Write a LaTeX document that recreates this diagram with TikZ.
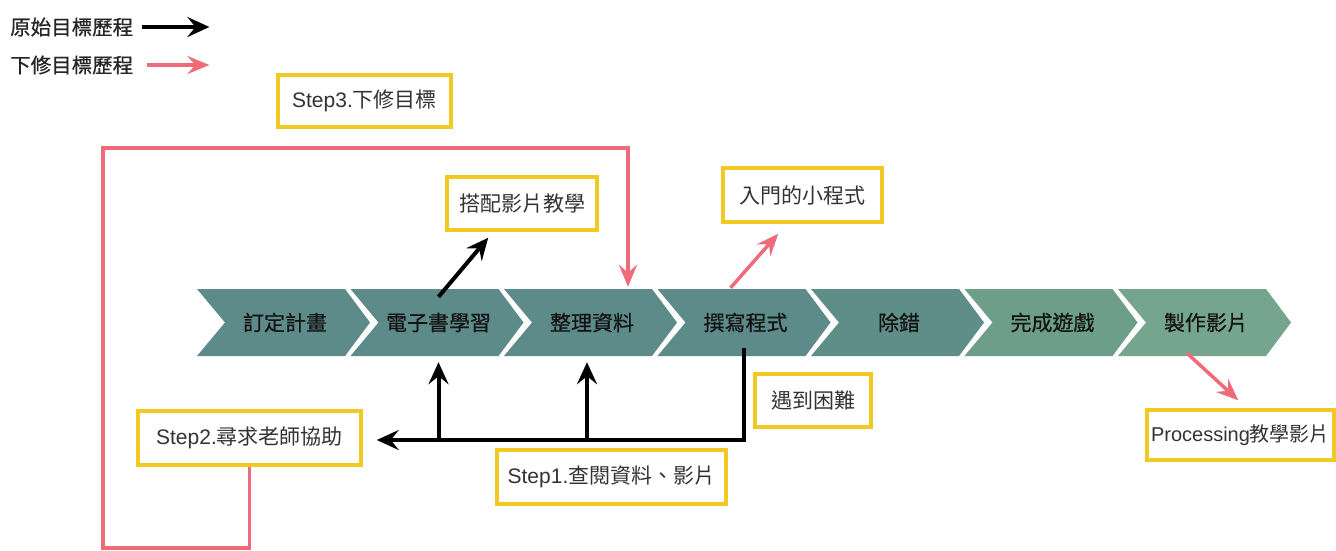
\documentclass[tikz,border=0pt]{standalone}
\usepackage{fontspec}
\setmainfont{Noto Sans CJK TC}
\newfontfamily\lat{Liberation Sans}
\newfontfamily\medfont[FakeBold=0.6]{Noto Sans CJK TC}
\usetikzlibrary{arrows.meta,calc}
\definecolor{pk}{RGB}{238,108,122}
\definecolor{yel}{RGB}{242,200,35}
\definecolor{chA}{RGB}{92,139,138}
\definecolor{chB}{RGB}{95,142,137}
\definecolor{chC}{RGB}{108,158,137}
\definecolor{chD}{RGB}{117,165,140}
\begin{document}
\begin{tikzpicture}[x=1pt,y=-1pt,
  chev/.style={minimum width=120pt,minimum height=67pt,inner sep=0pt,font=\medfont\fontsize{21}{21}\selectfont,text=black!92},
  lbl/.style={draw=yel,line width=3.5pt,fill=white,inner sep=0pt,font=\fontsize{21}{21}\selectfont,text=black!80},
  leg/.style={inner sep=0pt,anchor=west,font=\medfont\fontsize{20.5}{20.5}\selectfont,text=black!85},
  blk/.style={draw=black,line width=4pt,line join=miter,-{Stealth[length=22pt,width=20pt,inset=8pt]}},
  pka/.style={draw=pk,line width=3.5pt,line join=miter,-{Stealth[length=22pt,width=18pt,inset=8pt]}},
]
\useasboundingbox (0,0) rectangle (1336,550);
\fill[white] (0,0) rectangle (1336,550);

% legend
\node[leg] (lg1) at (10,27) {原始目標歷程};
\node[leg] (lg2) at (10,65) {下修目標歷程};
\coordinate (lga) at ($(lg1.east)+(9,0)$);
\coordinate (lgb) at ($(lg1.east)+(76,0)$);
\coordinate (lgc) at ($(lg2.east)+(14,0)$);
\coordinate (lgd) at ($(lg2.east)+(76,0)$);
\draw[blk,line width=4.5pt] (lga) -- (lgb);
\draw[pka,line width=4.5pt] (lgc) -- (lgd);

% chevrons
\foreach \n/\t/\c [count=\i from 0] in {c1/訂定計畫/chA,c2/電子書學習/chA,c3/整理資料/chA,c4/撰寫程式/chA,c5/除錯/chB,c6/完成遊戲/chC,c7/製作影片/chD}{
  \pgfmathsetmacro\cx{285+153.5*\i}
  \fill[\c] (\cx-88,289) -- (\cx+60,289) -- (\cx+85,322.5) -- (\cx+60,356) -- (\cx-88,356) -- (\cx-60,322.5) -- cycle;
  \node[chev] (\n) at (\cx,322.5) {\t};
}

% labels
\node[lbl,minimum width=173pt,minimum height=52pt] (s3) at (364.5,101) {{\lat Step3.}下修目標};
\node[lbl,minimum width=150pt,minimum height=53pt] (b1) at (522,203.5) {搭配影片教學};
\node[lbl,minimum width=159pt,minimum height=54pt] (b2) at (802.5,195) {入門的小程式};
\node[lbl,minimum width=116pt,minimum height=53pt] (b3) at (813,400.5) {遇到困難};
\node[lbl,minimum width=229pt,minimum height=54pt] (s1) at (611.5,477) {{\lat Step1.}查閱資料、影片};
\node[lbl,minimum width=223pt,minimum height=54pt] (s2) at (249.5,438) {{\lat Step2.}尋求老師協助};
\node[lbl,minimum width=187pt,minimum height=50pt,font=\fontsize{20}{20}\selectfont] (pr) at (1240.5,435) {{\lat Processing}教學影片};

% black connectors
\coordinate (hb) at (0,440);
\draw[blk] ($(c4.south)+(-1.5,-8)$) |- ($(s2.east)+(14,2)$);
\draw[blk,shorten >=6pt] (c2.south |- hb) -- (c2.south);
\draw[blk,shorten >=6pt] ($(c3.south |- hb)+(-5,0)$) -- ($(c3.south)+(-5,0)$);
\draw[blk] ($(c2.north)+(0,8)$) -- ($(b1.south west)+(43,6)$);

% pink connectors
\draw[pka] (s2.south) |- (103,548) |- ($(c3.north)+(36,-141)$) -- ($(c3.north)+(36,-2)$);
\draw[pka] ($(c4.north)+(-15,-1)$) -- ($(b2.south west)+(57,10)$);
\draw[pka] ($(c7.south)+(-19,-3)$) -- ($(pr.north west)+(93,-8)$);
\end{tikzpicture}
\end{document}
